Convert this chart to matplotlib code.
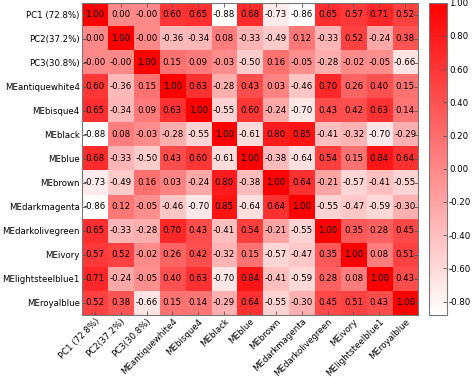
import matplotlib.pyplot as plt
import numpy as np
from matplotlib.colors import LinearSegmentedColormap

labels = ['PC1 (72.8%)', 'PC2(37.2%)', 'PC3(30.8%)', 'MEantiquewhite4', 'MEbisque4',
          'MEblack', 'MEblue', 'MEbrown', 'MEdarkmagenta', 'MEdarkolivegreen',
          'MEivory', 'MElightsteelblue1', 'MEroyalblue']

r_pc1 = [1.00, 0.00, -0.0, 0.60, 0.65, -0.88, 0.68, -0.73, -0.86, 0.65, 0.57, 0.71, 0.52]
r_pc2 = [0.00, 1.00, -0.0, -0.36, -0.34, 0.08, -0.33, -0.49, 0.12, -0.33, 0.52, -0.24, 0.38]
r_pc3 = [-0.0, -0.0, 1.00, 0.15, 0.09, -0.03, -0.50, 0.16, -0.05, -0.28, -0.02, -0.05, -0.66]
r_antique = [0.60, -0.36, 0.15, 1.00, 0.63, -0.28, 0.43, 0.03, -0.46, 0.70, 0.26, 0.40, 0.15]
r_bisque = [0.65, -0.34, 0.09, 0.63, 1.00, -0.55, 0.60, -0.24, -0.70, 0.43, 0.42, 0.63, 0.14]
r_black = [-0.88, 0.08, -0.03, -0.28, -0.55, 1.00, -0.61, 0.80, 0.85, -0.41, -0.32, -0.70, -0.29]
r_blue = [0.68, -0.33, -0.50, 0.43, 0.60, -0.61, 1.00, -0.38, -0.64, 0.54, 0.15, 0.84, 0.64]
r_brown = [-0.73, -0.49, 0.16, 0.03, -0.24, 0.80, -0.38, 1.00, 0.64, -0.21, -0.57, -0.41, -0.55]
r_magenta = [-0.86, 0.12, -0.05, -0.46, -0.70, 0.85, -0.64, 0.64, 1.00, -0.55, -0.47, -0.59, -0.30]
r_olive = [0.65, -0.33, -0.28, 0.70, 0.43, -0.41, 0.54, -0.21, -0.55, 1.00, 0.35, 0.28, 0.45]
r_ivory = [0.57, 0.52, -0.02, 0.26, 0.42, -0.32, 0.15, -0.57, -0.47, 0.35, 1.00, 0.08, 0.51]
r_steel = [0.71, -0.24, -0.05, 0.40, 0.63, -0.70, 0.84, -0.41, -0.59, 0.28, 0.08, 1.00, 0.43]
r_royal = [0.52, 0.38, -0.66, 0.15, 0.14, -0.29, 0.64, -0.55, -0.30, 0.45, 0.51, 0.43, 1.00]

cb_ticks = [-0.8, -0.6, -0.4, -0.2, 0.0, 0.2, 0.4, 0.6, 0.8, 1.0]

M = np.array([r_pc1, r_pc2, r_pc3, r_antique, r_bisque, r_black, r_blue, r_brown,
              r_magenta, r_olive, r_ivory, r_steel, r_royal])

fs = 6.2
cmap = LinearSegmentedColormap.from_list('wr', ['#ffffff', '#ff0000'])

fig = plt.figure(figsize=(4.73, 3.78), dpi=100)
ax = fig.add_axes([0.173, 0.167, 0.711, 0.826])
cax = fig.add_axes([0.907, 0.167, 0.038, 0.826])

im = ax.imshow(M, cmap=cmap, vmin=M.min(), vmax=1.0, aspect='auto')

n = len(labels)
for i in range(n):
    for j in range(n):
        ax.text(j, i, '%.2f' % M[i, j], ha='center', va='center', fontsize=fs, color='black')

ax.set_xticks(range(n))
ax.set_yticks(range(n))
ax.set_xticklabels(labels, rotation=45, ha='right', rotation_mode='anchor', fontsize=fs)
ax.set_yticklabels(labels, fontsize=fs)
ax.tick_params(direction='in', top=True, right=True, length=3, width=0.6, color='#555555', pad=1.5)
for s in ax.spines.values():
    s.set_color('#777777')
    s.set_linewidth(0.8)

cb = fig.colorbar(im, cax=cax, ticks=cb_ticks)
cb.ax.set_yticklabels(['%.2f' % t for t in cb_ticks], fontsize=fs)
cb.ax.tick_params(direction='in', length=3, width=0.6, color='#555555', pad=1.5)
cb.outline.set_edgecolor('#777777')
cb.outline.set_linewidth(0.8)

fig.savefig('out.png', dpi=100)
